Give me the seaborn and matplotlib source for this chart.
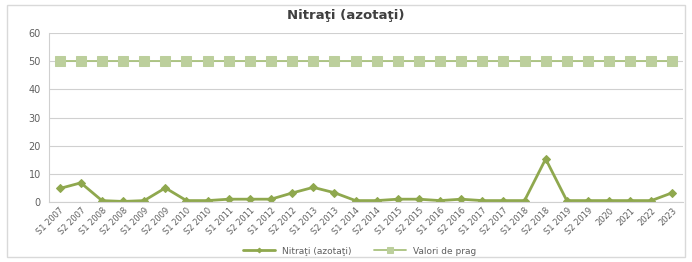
import numpy as np
import pandas as pd
import matplotlib
matplotlib.use("Agg")
import matplotlib.pyplot as plt
import seaborn as sns

periods = ["S1 2007", "S2 2007", "S1 2008", "S2 2008", "S1 2009", "S2 2009",
           "S1 2010", "S2 2010", "S1 2011", "S2 2011", "S1 2012", "S2 2012",
           "S1 2013", "S2 2013", "S1 2014", "S2 2014", "S1 2015", "S2 2015",
           "S1 2016", "S2 2016", "S1 2017", "S2 2017", "S1 2018", "S2 2018",
           "S1 2019", "S2 2019", "2020", "2021", "2022", "2023"]
nitrati = [4.8, 6.8, 0.5, 0.2, 0.5, 5.0,
           0.5, 0.5, 1.0, 1.0, 1.0, 3.2,
           5.2, 3.3, 0.5, 0.5, 1.0, 1.0,
           0.5, 1.0, 0.5, 0.5, 0.5, 15.3,
           0.5, 0.5, 0.5, 0.5, 0.5, 3.3]
prag = [50] * len(periods)

label_main = "Nitraţi (azotaţi)"
label_prag = "Valori de prag"

df = pd.DataFrame({"perioada": periods, label_main: nitrati, label_prag: prag})
df["pos"] = np.arange(len(periods))

sns.set_style("white")
plt.rcParams["font.family"] = ["DejaVu Sans"]

fig = plt.figure(figsize=(6.92, 2.62), dpi=100)
ax = fig.add_axes([0.071, 0.229, 0.916, 0.645])

green = "#8fa84e"
light = "#bccf9c"

sns.lineplot(data=df, x="pos", y=label_main, ax=ax, color=green, marker="D",
             markersize=4, markeredgecolor=green, linewidth=2, label=label_main)
sns.lineplot(data=df, x="pos", y=label_prag, ax=ax, color="#a9c27e", marker="s",
             markersize=6.5, markerfacecolor=light, markeredgecolor=light,
             linewidth=1.3, label=label_prag)

ax.set_xlim(-0.5, len(periods) - 0.5)
ax.set_ylim(0, 60)
ax.set_yticks(range(0, 61, 10))
ax.set_xticks(df["pos"])
ax.set_xticklabels(periods, rotation=45, ha="right", rotation_mode="anchor",
                   fontsize=6, color="#606060")
ax.tick_params(axis="y", labelsize=7, colors="#606060", length=0, pad=6)
ax.tick_params(axis="x", length=0, pad=3)
ax.set_xlabel("")
ax.set_ylabel("")
ax.grid(axis="y", color="#d0d0d0", linewidth=0.8)
for s in ["top", "right"]:
    ax.spines[s].set_visible(False)
ax.spines["left"].set_color("#d0d0d0")
ax.spines["bottom"].set_color("#d0d0d0")

fig.suptitle(label_main, x=0.5, y=0.965, fontsize=9.5, fontweight="bold", color="#404040")

ax.legend(loc="center", bbox_to_anchor=(0.49, -0.29), ncol=2, frameon=False,
          fontsize=6.5, labelcolor="#606060", handlelength=3.5, columnspacing=2.5,
          markerscale=0.6)

fig.patches.append(plt.Rectangle((0.01, 0.02), 0.98, 0.96, transform=fig.transFigure,
                                 fill=False, edgecolor="#d9d9d9", linewidth=1))

fig.savefig("out.png", dpi=100)
